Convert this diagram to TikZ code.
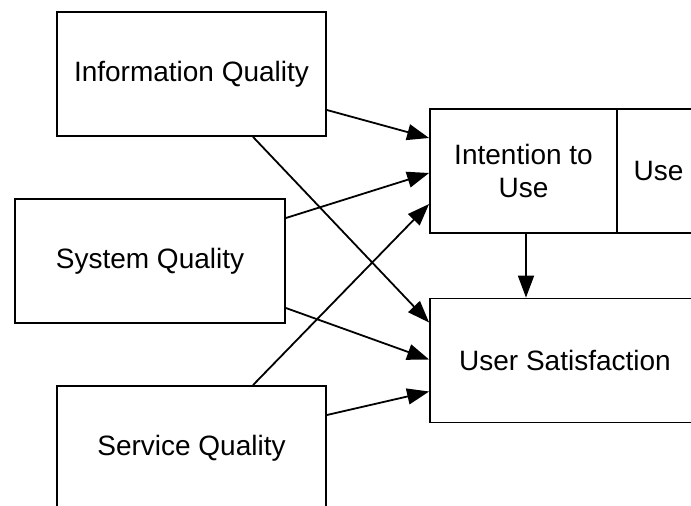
\documentclass[tikz,border=0pt]{standalone}
\usepackage{fontspec}
\setmainfont{Liberation Sans}
\usetikzlibrary{arrows.meta}

\begin{document}
\begin{tikzpicture}[x=1pt,y=-1pt,
  every node/.style={font=\fontsize{28}{33}\selectfont},
  box/.style={draw,line width=1.8pt,inner sep=0pt,align=center,minimum height=124pt},
  link/.style={-{Triangle[length=22pt,width=16pt]},line width=1.8pt}]
\clip (0,0) rectangle (691,506);
\node[box,minimum width=269pt] (info) at (191.5,74) {Information Quality};
\node[box,minimum width=270pt] (sys) at (150,261) {System Quality};
\node[box,minimum width=269pt] (serv) at (191.5,448) {Service Quality};
\node[box,minimum width=187pt] (intent) at (523.5,171) {Intention to\\Use};
\node[box,minimum width=83pt] (use) at (658.5,171) {Use};
\node[box,minimum width=270pt] (sat) at (565,360.5) {User Satisfaction};
\draw[link] ([yshift=-36pt]info.east) -- ([yshift=33pt]intent.west);
\draw[link] ([yshift=43pt]sys.east) -- ([yshift=-2pt]intent.west);
\draw[link] ([xshift=61.5pt]serv.north) -- ([yshift=-33pt]intent.west);
\draw[link] ([xshift=61.5pt]info.south) -- ([yshift=38pt]sat.west);
\draw[link] ([yshift=-47pt]sys.east) -- ([yshift=1pt]sat.west);
\draw[link] ([yshift=33pt]serv.east) -- ([yshift=-31pt]sat.west);
\draw[link] ([xshift=2.5pt]intent.south) -- ([xshift=2.5pt]intent.south |- sat.north);
\end{tikzpicture}
\end{document}
